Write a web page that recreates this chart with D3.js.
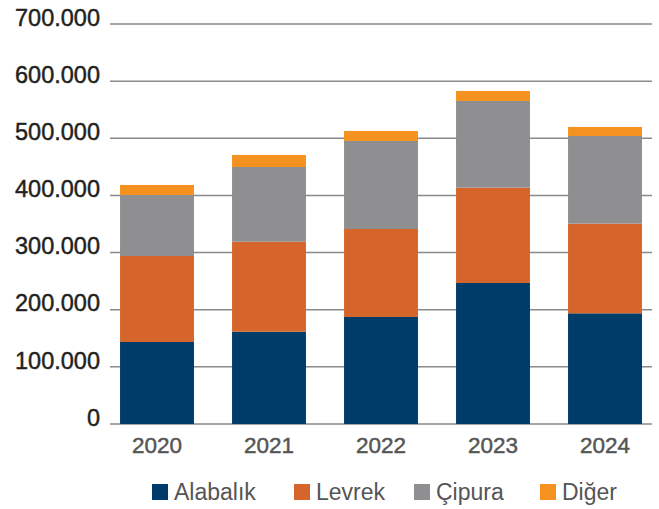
<!DOCTYPE html>
<html>
<head>
<meta charset="utf-8">
<script src="https://cdn.jsdelivr.net/npm/d3@7"></script>
<style>
  html, body { margin: 0; padding: 0; background: #fff; }
  svg { display: block; font-family: "Liberation Sans", Arial, Helvetica, sans-serif; }
</style>
</head>
<body>
<svg id="chart" width="659" height="509"></svg>
<script>
// Yearly production by species (tonnes)
const years = ["2020", "2021", "2022", "2023", "2024"];
const seriesNames = ["Alabalık", "Levrek", "Çipura", "Diğer"];
const alabalik = [143500, 161500, 187300, 246800, 193700];
const levrek   = [150500, 157500, 154000, 166800, 156900];
const cipura   = [106800, 130800, 154000, 151700, 153400];
const diger    = [17500, 21000, 17500, 17500, 15800];
const yTicks = [0, 100000, 200000, 300000, 400000, 500000, 600000, 700000];
const colors = ["#003c69", "#d5652a", "#8f8f91", "#f5921f"];

const rows = years.map((y, i) => ({
  year: y,
  "Alabalık": alabalik[i],
  "Levrek": levrek[i],
  "Çipura": cipura[i],
  "Diğer": diger[i]
}));

const svg = d3.select("#chart");
const gridLeft = 110, gridRight = 652;
const yTop = 24, yBottom = 424;

const x = d3.scaleBand().domain(years).range([101, 661]).paddingInner(0.34).paddingOuter(0.17);
const y = d3.scaleLinear().domain([0, 700000]).range([yBottom, yTop]);
const color = d3.scaleOrdinal().domain(seriesNames).range(colors);

const fmt = v => d3.format(",")(v).replace(/,/g, ".");

// Horizontal gridlines
svg.append("g")
  .selectAll("line")
  .data(yTicks)
  .join("line")
  .attr("x1", gridLeft).attr("x2", gridRight)
  .attr("y1", d => y(d)).attr("y2", d => y(d))
  .attr("stroke", "#8a8a8a")
  .attr("stroke-width", 1.5);

// Y axis labels
const yAxis = d3.axisLeft(y).tickValues(yTicks).tickFormat(fmt).tickSize(0).tickPadding(0);
const gy = svg.append("g").attr("transform", `translate(100,0)`).call(yAxis);
gy.select(".domain").remove();
gy.selectAll("text")
  .attr("font-size", 23.5)
  .attr("fill", "#231f20")
  .attr("stroke", "#231f20")
  .attr("stroke-width", 0.45)
  .attr("font-family", "Liberation Sans, Arial, sans-serif")
  .attr("dy", "0.05em");

// Stacked bars
const stack = d3.stack().keys(seriesNames);
const layers = stack(rows);
svg.append("g")
  .selectAll("g")
  .data(layers)
  .join("g")
  .attr("fill", d => color(d.key))
  .selectAll("rect")
  .data(d => d)
  .join("rect")
  .attr("x", d => x(d.data.year))
  .attr("width", x.bandwidth())
  .attr("y", d => y(d[1]))
  .attr("height", d => y(d[0]) - y(d[1]));

// X axis labels
const xAxis = d3.axisBottom(x).tickSize(0).tickPadding(0);
const gx = svg.append("g").attr("transform", `translate(0,${yBottom + 13})`).call(xAxis);
gx.select(".domain").remove();
gx.selectAll("text")
  .attr("font-size", 22.5)
  .attr("fill", "#555555")
  .attr("stroke", "#555555")
  .attr("stroke-width", 0.45)
  .attr("font-family", "Liberation Sans, Arial, sans-serif")
  .attr("dy", "0.71em");

// Legend
const legendX = [152, 294, 414, 540];
const legend = svg.append("g")
  .selectAll("g")
  .data(seriesNames)
  .join("g")
  .attr("transform", (d, i) => `translate(${legendX[i]},484)`);
legend.append("rect")
  .attr("width", 16).attr("height", 16)
  .attr("fill", d => color(d));
legend.append("text")
  .attr("x", 22).attr("y", 8)
  .attr("dy", "0.36em")
  .attr("font-size", 23)
  .attr("fill", "#555555")
  .text(d => d);
</script>
</body>
</html>
